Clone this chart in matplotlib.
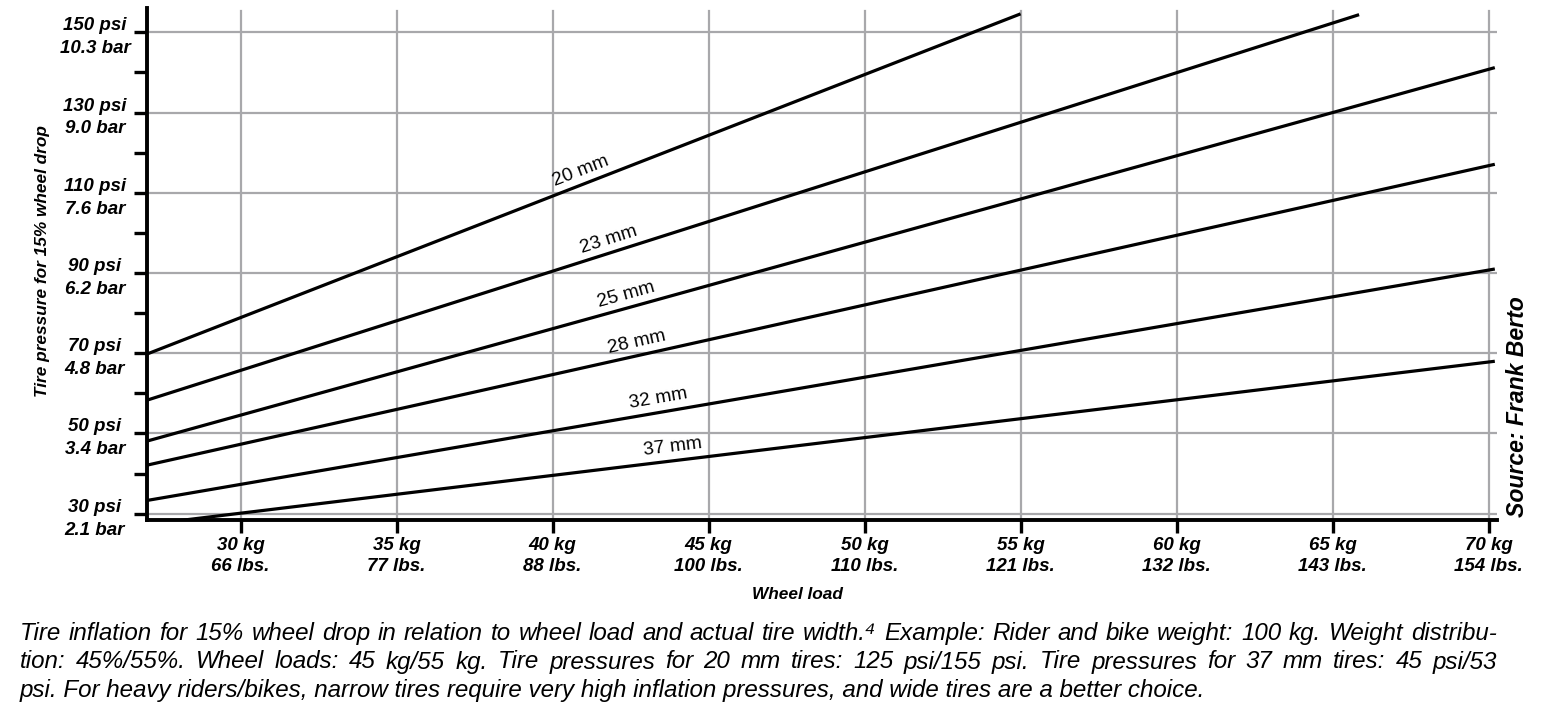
import math
import matplotlib
matplotlib.use("Agg")
import matplotlib.pyplot as plt
from matplotlib import font_manager as fm

# ---------------- data ----------------
widths = ["20 mm", "23 mm", "25 mm", "28 mm", "32 mm", "37 mm"]
load_start = [27.0, 27.0, 27.0, 27.0, 27.0, 27.0]
load_end = [55.0, 65.85, 70.2, 70.2, 70.2, 70.2]
psi_start = [69.8, 58.3, 48.1, 42.1, 33.3, 27.3]
psi_end = [154.6, 154.4, 141.2, 117.1, 91.0, 68.0]
label_load = [40.9, 41.8, 42.35, 42.7, 43.4, 43.85]

kg_ticks = [30, 35, 40, 45, 50, 55, 60, 65, 70]
lbs_ticks = [66, 77, 88, 100, 110, 121, 132, 143, 154]
psi_ticks = [30, 50, 70, 90, 110, 130, 150]
bar_ticks = ["2.1", "3.4", "4.8", "6.2", "7.6", "9.0", "10.3"]
psi_minor = [40, 60, 80, 100, 120, 140]

caption_lines = [
    "Tire inflation for 15% wheel drop in relation to wheel load and actual tire width.\u2074 Example: Rider and bike weight: 100 kg. Weight distribu-",
    "tion: 45%/55%. Wheel loads: 45 kg/55 kg. Tire pressures for 20 mm tires: 125 psi/155 psi. Tire pressures for 37 mm tires: 45 psi/53",
    "psi. For heavy riders/bikes, narrow tires require very high inflation pressures, and wide tires are a better choice.",
]
caption_justify = [True, True, False]


def has_font(name):
    try:
        fm.findfont(fm.FontProperties(family=name), fallback_to_default=False)
        return True
    except Exception:
        return False


BASE = ["Liberation Sans", "DejaVu Sans"]
NARROW = (["Liberation Sans Narrow"] if has_font("Liberation Sans Narrow") else []) + BASE
plt.rcParams["font.family"] = BASE

W, H, DPI = 1545, 709, 100
fig = plt.figure(figsize=(W / DPI, H / DPI), dpi=DPI)
ax = fig.add_axes([147 / W, (H - 520) / H, 1350 / W, 512 / H])

ax.set_xlim(27.0, 70.27)
ax.set_ylim(28.43, 156.06)

grid_col = "#a8a8ab"
ax.set_axisbelow(True)
for k in kg_ticks:
    ax.axvline(k, ymax=0.994, color=grid_col, lw=1.6, zorder=0)
for p in psi_ticks:
    ax.axhline(p, color=grid_col, lw=1.6, zorder=0)

for s in ["top", "right"]:
    ax.spines[s].set_visible(False)
for s in ["left", "bottom"]:
    ax.spines[s].set_linewidth(2.8)
    ax.spines[s].set_color("black")

tick_font = dict(family=BASE, weight="bold", style="italic", size=13.5)
ax.set_xticks(kg_ticks)
ax.set_xticklabels([f"{k} kg\n{l} lbs." for k, l in zip(kg_ticks, lbs_ticks)],
                   fontdict=tick_font, linespacing=1.28)
ax.set_yticks(psi_ticks)
ax.set_yticklabels([f"{p} psi\n{b} bar" for p, b in zip(psi_ticks, bar_ticks)],
                   fontdict=tick_font, linespacing=1.45)
ax.set_yticks(psi_minor, minor=True)
ax.tick_params(axis="both", which="both", direction="out", length=9.5, width=2.4, color="black")
ax.tick_params(axis="x", which="major", pad=3)
ax.tick_params(axis="y", which="major", pad=28)
for lbl in ax.get_yticklabels():
    lbl.set_horizontalalignment("center")
    lbl.set_multialignment("center")

ax.set_xlabel("Wheel load", family=BASE, weight="bold", style="italic", fontsize=12.4)
ax.xaxis.set_label_coords(0.482, -0.13)
ax.set_ylabel("Tire pressure for 15% wheel drop", family=BASE, weight="bold", style="italic",
              fontsize=12.4)
ax.yaxis.set_label_coords(-0.072, 0.505)

for i, name in enumerate(widths):
    ax.plot([load_start[i], load_end[i]], [psi_start[i], psi_end[i]],
            color="black", lw=2.3, solid_capstyle="butt", zorder=3)

fig.canvas.draw()
for i, name in enumerate(widths):
    p1 = ax.transData.transform((load_start[i], psi_start[i]))
    p2 = ax.transData.transform((load_end[i], psi_end[i]))
    ang = math.degrees(math.atan2(p2[1] - p1[1], p2[0] - p1[0]))
    t = (label_load[i] - load_start[i]) / (load_end[i] - load_start[i])
    ly = psi_start[i] + t * (psi_end[i] - psi_start[i])
    ax.annotate(name, (label_load[i], ly), xytext=(0, 10), textcoords="offset points",
                ha="center", va="center", rotation=ang, rotation_mode="anchor",
                fontsize=13.8, family=BASE, zorder=4)

fig.text(1518 / W, 1 - 407 / H, "Source: Frank Berto", rotation=90, ha="center", va="center",
         family=BASE, weight="bold", style="italic", fontsize=16.6)

# ---------------- caption ----------------
cap_kw = dict(ha="left", va="baseline", family=NARROW, style="italic")
x_left, x_right = 20, 1497
baselines = [640, 668.5, 697]

probe = fig.text(0, 0, caption_lines[0], fontsize=14, **cap_kw)
fig.canvas.draw()
r = fig.canvas.get_renderer()
fs = 14 * (x_right - x_left - 12) / probe.get_window_extent(r).width
probe.remove()

for line, yb, just in zip(caption_lines, baselines, caption_justify):
    yf = 1 - yb / H
    if not just:
        fig.text(x_left / W, yf, line, fontsize=fs, **cap_kw)
        continue
    words = line.split(" ")
    items = [fig.text(0, yf, w_, fontsize=fs, **cap_kw) for w_ in words]
    fig.canvas.draw()
    wids = [it.get_window_extent(r).width for it in items]
    gap = (x_right - x_left - sum(wids)) / (len(words) - 1)
    x = x_left
    for it, wd in zip(items, wids):
        it.set_x(x / W)
        x += wd + gap

fig.savefig("out.png", dpi=DPI)
